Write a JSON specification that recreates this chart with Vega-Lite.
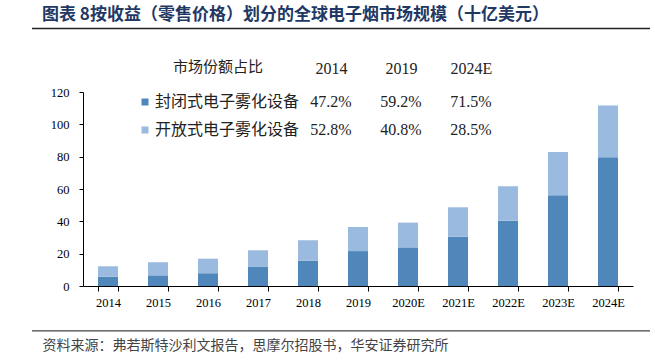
{
  "$schema": "https://vega.github.io/schema/vega-lite/v6.json",
  "width": 618,
  "height": 194,
  "autosize": {"type": "none"},
  "padding": {"left": 32, "top": 92, "right": 5, "bottom": 75},
  "background": "white",
  "config": {"view": {"stroke": null}, "font": "Liberation Serif"},
  "title": {
    "text": "图表 8按收益（零售价格）划分的全球电子烟市场规模（十亿美元）",
    "anchor": "start",
    "frame": "group",
    "dx": 10,
    "offset": 4,
    "font": "Noto Sans CJK SC",
    "fontSize": 17,
    "fontWeight": "bold",
    "color": "#1F3864"
  },
  "layer": [
    {
      "data": {"values": [
        {"year": "2014", "type": "封闭式电子雾化设备", "value": 5.7},
        {"year": "2014", "type": "开放式电子雾化设备", "value": 6.5},
        {"year": "2015", "type": "封闭式电子雾化设备", "value": 6.6},
        {"year": "2015", "type": "开放式电子雾化设备", "value": 8.1},
        {"year": "2016", "type": "封闭式电子雾化设备", "value": 7.9},
        {"year": "2016", "type": "开放式电子雾化设备", "value": 9.0},
        {"year": "2017", "type": "封闭式电子雾化设备", "value": 11.8},
        {"year": "2017", "type": "开放式电子雾化设备", "value": 10.3},
        {"year": "2018", "type": "封闭式电子雾化设备", "value": 15.7},
        {"year": "2018", "type": "开放式电子雾化设备", "value": 12.6},
        {"year": "2019", "type": "封闭式电子雾化设备", "value": 21.6},
        {"year": "2019", "type": "开放式电子雾化设备", "value": 14.9},
        {"year": "2020E", "type": "封闭式电子雾化设备", "value": 23.9},
        {"year": "2020E", "type": "开放式电子雾化设备", "value": 15.3},
        {"year": "2021E", "type": "封闭式电子雾化设备", "value": 30.5},
        {"year": "2021E", "type": "开放式电子雾化设备", "value": 18.2},
        {"year": "2022E", "type": "封闭式电子雾化设备", "value": 40.4},
        {"year": "2022E", "type": "开放式电子雾化设备", "value": 21.3},
        {"year": "2023E", "type": "封闭式电子雾化设备", "value": 56.1},
        {"year": "2023E", "type": "开放式电子雾化设备", "value": 26.8},
        {"year": "2024E", "type": "封闭式电子雾化设备", "value": 79.6},
        {"year": "2024E", "type": "开放式电子雾化设备", "value": 32.0}
      ]},
      "mark": {"type": "bar"},
      "encoding": {
        "x": {
          "field": "year", "type": "nominal", "sort": null,
          "scale": {"range": [51, 601], "paddingInner": 0.6, "paddingOuter": 0.3},
          "axis": {
            "tickBand": "extent", "labelAngle": 0,
            "domainColor": "#000000", "tickColor": "#000000", "tickSize": 5,
            "labelFont": "Liberation Serif", "labelFontSize": 12.5, "labelColor": "#000000", "labelPadding": 5,
            "title": "资料来源：弗若斯特沙利文报告，思摩尔招股书，华安证券研究所",
            "titleFont": "Noto Sans CJK SC", "titleFontSize": 14, "titleFontWeight": "normal",
            "titleColor": "#444444", "titleAnchor": "start", "titleAlign": "left",
            "titleX": 10, "titleY": 59, "titleBaseline": "middle"
          }
        },
        "y": {
          "field": "value", "type": "quantitative", "stack": "zero",
          "scale": {"domain": [0, 120]},
          "axis": {
            "values": [0, 20, 40, 60, 80, 100, 120], "grid": false, "offset": -51, "labelOverlap": false,
            "domainColor": "#000000", "tickColor": "#000000", "tickSize": 4,
            "labelFont": "Liberation Serif", "labelFontSize": 12.5, "labelColor": "#000000", "labelPadding": 10,
            "title": null
          }
        },
        "color": {
          "field": "type", "type": "nominal",
          "scale": {"domain": ["封闭式电子雾化设备", "开放式电子雾化设备"], "range": ["#4F87BB", "#9BBADF"]},
          "legend": {
            "orient": "none", "legendX": 105, "legendY": -32, "padding": 0,
            "title": "市场份额占比", "titleFont": "Noto Sans CJK SC", "titleFontSize": 15, "titleFontWeight": "normal",
            "titleColor": "#222222", "titleAnchor": "middle", "titlePadding": 19,
            "symbolType": "square", "symbolSize": 49, "symbolStrokeWidth": 0,
            "labelFont": "Noto Sans CJK SC", "labelFontSize": 16, "labelColor": "#222222", "labelOffset": 2,
            "rowPadding": 12
          }
        },
        "order": {"field": "type", "sort": "ascending"}
      }
    },
    {
      "data": {"values": [{}]},
      "mark": {"type": "rule", "color": "#222222", "strokeWidth": 1.5},
      "encoding": {"y": {"datum": 159.3, "type": "quantitative", "scale": {"domain": [0, 120]}, "axis": null}}
    },
    {
      "data": {"values": [{}]},
      "mark": {"type": "rule", "color": "#444444", "strokeWidth": 1.2},
      "encoding": {"y": {"datum": -27.8, "type": "quantitative", "scale": {"domain": [0, 120]}, "axis": null}}
    },
    {
      "data": {"values": [
        {"segment": "封闭式电子雾化设备", "year": "2014", "share": 0.472},
        {"segment": "封闭式电子雾化设备", "year": "2019", "share": 0.592},
        {"segment": "封闭式电子雾化设备", "year": "2024E", "share": 0.715},
        {"segment": "开放式电子雾化设备", "year": "2014", "share": 0.528},
        {"segment": "开放式电子雾化设备", "year": "2019", "share": 0.408},
        {"segment": "开放式电子雾化设备", "year": "2024E", "share": 0.285}
      ]},
      "mark": {"type": "text", "font": "Liberation Serif", "fontSize": 16, "color": "#222222", "baseline": "middle", "align": "center"},
      "encoding": {
        "x": {
          "field": "year", "type": "ordinal",
          "scale": {"type": "point", "domain": ["2014", "2019", "2024E"], "range": [299, 439], "padding": 0},
          "axis": {"orient": "top", "domain": false, "ticks": false, "tickSize": 0, "labelPadding": 16,
                   "labelFont": "Liberation Serif", "labelFontSize": 16, "labelColor": "#222222", "labelAngle": 0, "title": null}
        },
        "y": {
          "field": "segment", "type": "nominal",
          "scale": {"type": "point", "domain": ["封闭式电子雾化设备", "开放式电子雾化设备"], "range": [10, 38], "padding": 0},
          "axis": null
        },
        "text": {"field": "share", "type": "quantitative", "format": ".1%"}
      }
    }
  ],
  "resolve": {"scale": {"x": "independent", "y": "independent"}}
}
